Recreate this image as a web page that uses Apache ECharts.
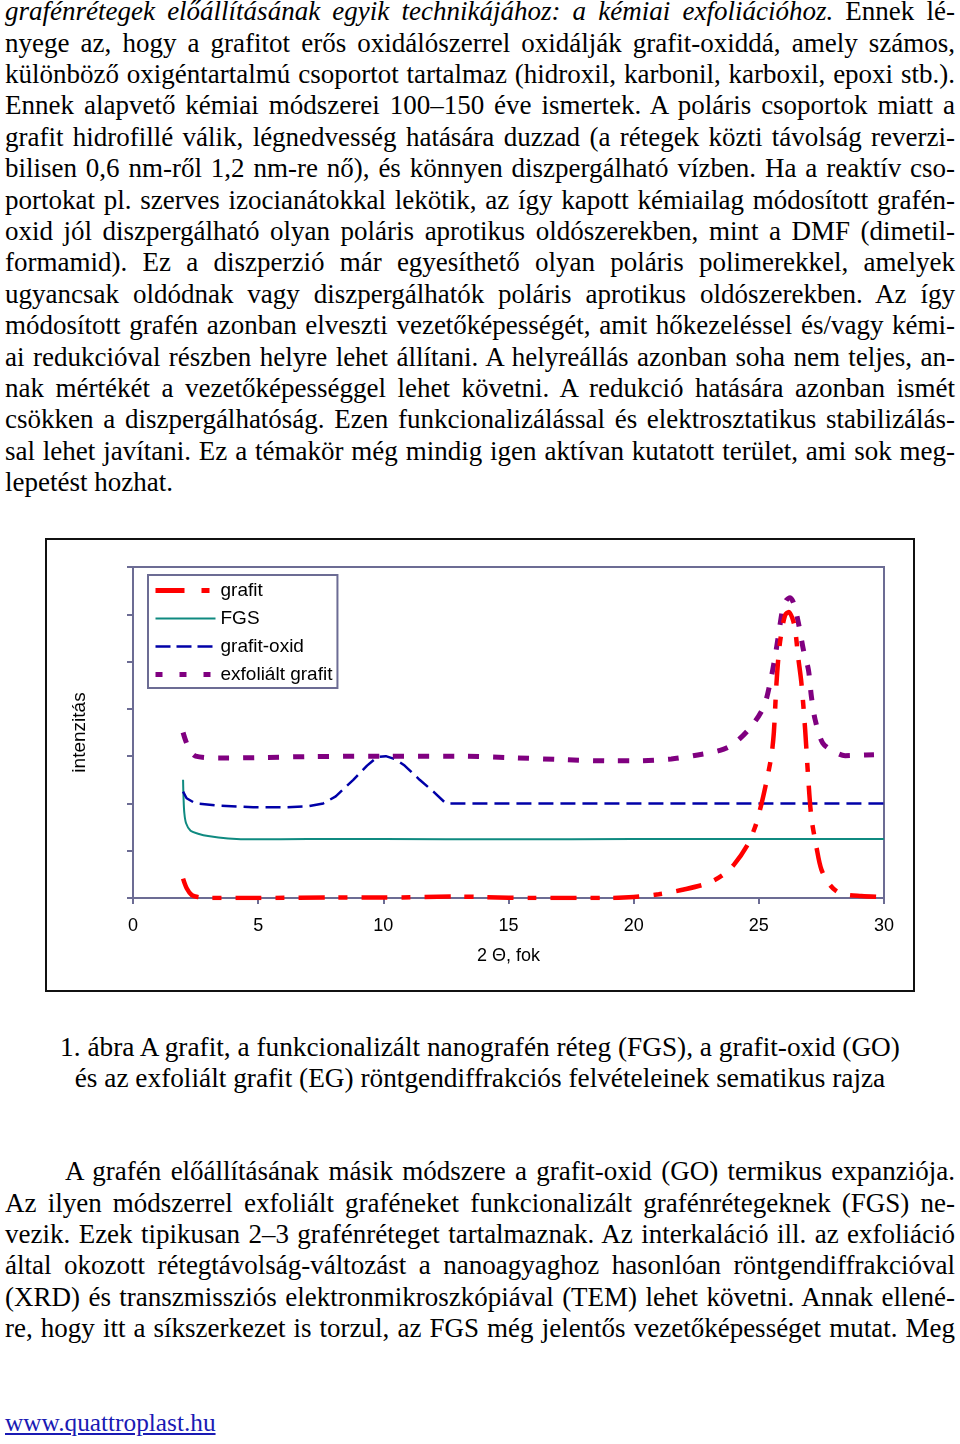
<!DOCTYPE html>
<html>
<head>
<meta charset="utf-8">
<script src="https://cdn.jsdelivr.net/npm/echarts@6/dist/echarts.min.js"></script>
<style>
html,body{margin:0;padding:0;width:960px;height:1444px;overflow:hidden;background:#fff;}
body{position:relative;font-family:"Liberation Serif","Times New Roman",serif;font-size:27px;color:#000;}
.par{position:absolute;left:5px;width:950px;}
.ln{height:31.4px;line-height:31.4px;white-space:nowrap;text-align:justify;text-align-last:justify;}
.ln.last{text-align:left;text-align-last:left;}
.cap{position:absolute;left:0;width:960px;text-align:center;font-size:27.3px;}
.cap div{height:31px;line-height:31px;white-space:nowrap;}
#frame{position:absolute;left:45px;top:538px;width:870px;height:454px;box-sizing:border-box;border:2px solid #111;}
#chart{width:866px;height:450px;}
#foot{position:absolute;left:5px;top:1406px;font-size:25.3px;line-height:32px;color:#1a1ab4;text-decoration:underline;}
</style>
</head>
<body>
<div class="par" style="top:-3.7px">
<div class="ln"><i>grafénrétegek előállításának egyik technikájához: a kémiai exfoliációhoz.</i> Ennek lé-</div>
<div class="ln">nyege az, hogy a grafitot erős oxidálószerrel oxidálják grafit-oxiddá, amely számos,</div>
<div class="ln">különböző oxigéntartalmú csoportot tartalmaz (hidroxil, karbonil, karboxil, epoxi stb.).</div>
<div class="ln">Ennek alapvető kémiai módszerei 100–150 éve ismertek. A poláris csoportok miatt a</div>
<div class="ln">grafit hidrofillé válik, légnedvesség hatására duzzad (a rétegek közti távolság reverzi-</div>
<div class="ln">bilisen 0,6 nm-ről 1,2 nm-re nő), és könnyen diszpergálható vízben. Ha a reaktív cso-</div>
<div class="ln">portokat pl. szerves izocianátokkal lekötik, az így kapott kémiailag módosított grafén-</div>
<div class="ln">oxid jól diszpergálható olyan poláris aprotikus oldószerekben, mint a DMF (dimetil-</div>
<div class="ln">formamid). Ez a diszperzió már egyesíthető olyan poláris polimerekkel, amelyek</div>
<div class="ln">ugyancsak oldódnak vagy diszpergálhatók poláris aprotikus oldószerekben. Az így</div>
<div class="ln">módosított grafén azonban elveszti vezetőképességét, amit hőkezeléssel és/vagy kémi-</div>
<div class="ln">ai redukcióval részben helyre lehet állítani. A helyreállás azonban soha nem teljes, an-</div>
<div class="ln">nak mértékét a vezetőképességgel lehet követni. A redukció hatására azonban ismét</div>
<div class="ln">csökken a diszpergálhatóság. Ezen funkcionalizálással és elektrosztatikus stabilizálás-</div>
<div class="ln">sal lehet javítani. Ez a témakör még mindig igen aktívan kutatott terület, ami sok meg-</div>
<div class="ln last">lepetést hozhat.</div>
</div>

<div id="frame"><div id="chart"></div></div>

<div class="cap" style="top:1031.5px">
<div>1. ábra A grafit, a funkcionalizált nanografén réteg (FGS), a grafit-oxid (GO)</div>
<div>és az exfoliált grafit (EG) röntgendiffrakciós felvételeinek sematikus rajza</div>
</div>

<div class="par" style="top:1156.3px">
<div class="ln" style="padding-left:60px;box-sizing:border-box;">A grafén előállításának másik módszere a grafit-oxid (GO) termikus expanziója.</div>
<div class="ln">Az ilyen módszerrel exfoliált graféneket funkcionalizált grafénrétegeknek (FGS) ne-</div>
<div class="ln">vezik. Ezek tipikusan 2–3 grafénréteget tartalmaznak. Az interkaláció ill. az exfoliáció</div>
<div class="ln">által okozott rétegtávolság-változást a nanoagyaghoz hasonlóan röntgendiffrakcióval</div>
<div class="ln">(XRD) és transzmissziós elektronmikroszkópiával (TEM) lehet követni. Annak ellené-</div>
<div class="ln">re, hogy itt a síkszerkezet is torzul, az FGS még jelentős vezetőképességet mutat. Meg</div>
</div>

<div id="foot">www.quattroplast.hu</div>

<script>
// ---- data ----
const seriesNames = ['grafit', 'FGS', 'grafit-oxid', 'exfoliált grafit'];
const xTicks = [0, 5, 10, 15, 20, 25, 30];

const grafitX = [2.0, 2.15, 2.35, 2.6, 3, 5, 8, 10, 13, 14, 16, 19, 20, 21, 22, 23, 23.6, 24, 24.5, 24.85, 25.1, 25.3, 25.5, 25.6, 25.7, 25.8, 25.9, 26.05, 26.2, 26.35, 26.45, 26.57, 26.7, 26.85, 26.97, 27.1, 27.3, 27.5, 27.85, 28.25, 29.1, 30];
const grafitY = [0.41, 0.2, 0.06, 0.02, 0.0, 0.0, 0.01, 0.01, 0.03, 0.02, 0.0, 0.0, 0.02, 0.08, 0.18, 0.32, 0.5, 0.7, 1.08, 1.5, 1.98, 2.45, 3.0, 3.5, 4.5, 5.2, 5.6, 5.98, 6.05, 5.9, 5.68, 5.1, 4.55, 3.56, 2.56, 1.7, 1.08, 0.6, 0.27, 0.1, 0.04, 0.02];

const fgsX = [2.0, 2.02, 2.05, 2.12, 2.3, 2.6, 3.0, 3.8, 4.8, 7, 10, 15, 20, 30];
const fgsY = [2.5, 2.1, 1.8, 1.58, 1.42, 1.36, 1.31, 1.26, 1.24, 1.25, 1.25, 1.24, 1.25, 1.25];

const oxidX = [2.0, 2.14, 2.5, 3.5, 4.8, 6.1, 7.0, 7.6, 8.1, 8.8, 9.35, 9.75, 10.1, 10.5, 10.85, 11.45, 12.0, 12.5, 30];
const oxidY = [2.25, 2.11, 2.0, 1.95, 1.92, 1.92, 1.94, 2.0, 2.15, 2.5, 2.8, 2.98, 3.0, 2.93, 2.8, 2.5, 2.25, 2.0, 2.0];

const exfX = [2.0, 2.2, 2.5, 3.5, 5, 7, 10, 13, 15, 17, 19, 20, 21.5, 22.5, 23.45, 24.0, 24.7, 25.2, 25.45, 25.65, 25.8, 25.95, 26.1, 26.25, 26.4, 26.58, 26.78, 26.98, 27.1, 27.25, 27.55, 28.0, 28.45, 29, 29.6];
const exfY = [3.5, 3.2, 3.0, 2.96, 2.97, 2.99, 3.0, 3.0, 2.97, 2.93, 2.9, 2.9, 2.94, 3.02, 3.12, 3.26, 3.63, 4.05, 4.55, 5.11, 5.61, 6.1, 6.3, 6.35, 6.22, 5.82, 5.25, 4.83, 4.26, 3.77, 3.28, 3.1, 3.01, 3.02, 3.03];

// ---- build ----
function pairs(xs, ys) { return xs.map((x, i) => [x, ys[i]]); }
const AX = '#6c6c94';
const SANS = '"Liberation Sans", Arial, sans-serif';

const styles = [
  {color: '#ff0000', width: 4.5, type: [26, 14, 9, 14], cap: 'butt'},
  {color: '#0f8a80', width: 2, type: 'solid'},
  {color: '#0000a8', width: 2.5, type: [15, 7], cap: 'butt'},
  {color: '#800080', width: 5, type: [11, 14], cap: 'butt'}
];
const legendStyles = [
  {color: '#ff0000', width: 5, type: [29, 17, 8, 20], cap: 'butt'},
  {color: '#0f8a80', width: 2, type: 'solid'},
  {color: '#0000a8', width: 2.5, type: [15, 6], cap: 'butt'},
  {color: '#800080', width: 5, type: [7, 17], cap: 'butt'}
];

const chart = echarts.init(document.getElementById('chart'), null, {renderer: 'canvas'});
chart.setOption({
  animation: false,
  backgroundColor: '#fff',
  grid: {left: 86, right: 29, top: 27, bottom: 92, show: true, borderColor: AX, borderWidth: 2, backgroundColor: 'transparent'},
  legend: {
    orient: 'vertical', left: 101, top: 35,
    itemWidth: 60, itemHeight: 14, itemGap: 9,
    padding: [6, 5, 4, 5],
    borderColor: AX, borderWidth: 2, backgroundColor: '#fff',
    textStyle: {fontSize: 19, fontFamily: SANS, color: '#000'},
    itemStyle: {opacity: 0},
    data: seriesNames.map((n, i) => ({name: n, lineStyle: legendStyles[i], itemStyle: {opacity: 0}}))
  },
  xAxis: {
    type: 'value', min: 0, max: 30, interval: 5,
    axisLine: {show: true, onZero: false, lineStyle: {color: AX, width: 2}},
    axisTick: {show: true, length: 6, lineStyle: {color: AX, width: 2}},
    axisLabel: {fontSize: 18, fontFamily: SANS, color: '#000', margin: 19,
      formatter: v => (xTicks.indexOf(v) >= 0 ? String(v) : '')},
    splitLine: {show: false},
    name: '2 Θ, fok', nameLocation: 'middle', nameGap: 49,
    nameTextStyle: {fontSize: 18, fontFamily: SANS, color: '#000'}
  },
  yAxis: {
    type: 'value', min: 0, max: 7, interval: 1,
    axisLine: {show: true, onZero: false, lineStyle: {color: AX, width: 2}},
    axisTick: {show: true, length: 6, lineStyle: {color: AX, width: 2}},
    axisLabel: {show: false},
    splitLine: {show: false},
    name: 'intenzitás', nameLocation: 'middle', nameGap: 44,
    nameTextStyle: {fontSize: 19, fontFamily: SANS, color: '#000'}
  },
  series: [
    {name: seriesNames[0], type: 'line', data: pairs(grafitX, grafitY), showSymbol: false, smooth: 0.3, z: 4,
     color: styles[0].color, lineStyle: styles[0]},
    {name: seriesNames[1], type: 'line', data: pairs(fgsX, fgsY), showSymbol: false, smooth: 0.3, z: 2,
     color: styles[1].color, lineStyle: styles[1]},
    {name: seriesNames[2], type: 'line', data: pairs(oxidX, oxidY), showSymbol: false, smooth: false, z: 3,
     color: styles[2].color, lineStyle: styles[2]},
    {name: seriesNames[3], type: 'line', data: pairs(exfX, exfY), showSymbol: false, smooth: 0.3, z: 3,
     color: styles[3].color, lineStyle: styles[3]}
  ]
});
</script>
</body>
</html>
